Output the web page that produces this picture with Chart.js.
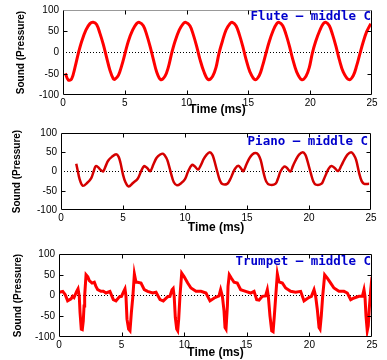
<!DOCTYPE html>
<html><head><meta charset="utf-8">
<script src="https://cdn.jsdelivr.net/npm/chart.js@4/dist/chart.umd.min.js"></script>
<style>
html,body{margin:0;padding:0;background:#fff;}
#wrap{position:relative;width:387px;height:360px;overflow:hidden;}
canvas{position:absolute;left:0;}
</style></head><body>
<div id="wrap">
<canvas id="c1" width="387" height="120" style="top:0px"></canvas>
<canvas id="c2" width="387" height="120" style="top:120px"></canvas>
<canvas id="c3" width="387" height="120" style="top:240px"></canvas>
</div>
<script>
// ---- data ----
const timeTicks = [0, 5, 10, 15, 20, 25];
const pressureTicks = [-100, -50, 0, 50, 100];
const chartTitles = ['Flute \u2013 middle C', 'Piano \u2013 middle C', 'Trumpet \u2013 middle C'];
const xAxisTitle = 'Time (ms)';
const yAxisTitle = 'Sound (Pressure)';
const baselineTime = [0, 25];
const baselinePressure = [0, 0];

const fluteTime = [0.19,0.43,0.7,0.97,1.24,1.51,1.86,2.18,2.45,2.72,2.99,3.26,3.53,3.8,4.07,4.2,4.48,4.75,5.02,5.28,5.64,5.96,6.17,6.5,6.77,7.04,7.31,7.58,7.9,8.25,8.52,8.79,9.06,9.41,9.73,9.93,10.27,10.54,10.81,11.08,11.41,11.76,12.11,12.38,12.62,12.89,13.19,13.51,13.7,14.0,14.27,14.54,14.81,15.13,15.53,15.88,16.15,16.42,16.69,17.02,17.29,17.48,17.78,18.05,18.32,18.59,18.91,19.31,19.66,19.93,20.17,20.44,20.79,21.06,21.28,21.55,21.81,22.08,22.35,22.68,23.14,23.49,23.76,24.03,24.3,24.57,24.9];
const flutePressure = [-49,-65,-62,-35,-2,26,53,68,71,66,45,19,-12,-42,-62,-63,-54,-31,-2,26,53,68,71,63,42,15,-16,-46,-64,-56,-35,-2,26,53,68,71,63,42,15,-16,-46,-64,-56,-35,-2,26,53,68,71,63,42,15,-16,-46,-64,-54,-31,-2,26,53,68,71,63,42,15,-16,-46,-64,-56,-35,-2,26,53,68,71,63,42,15,-16,-46,-64,-54,-31,-2,26,49,68];

const pianoTime = [1.23,1.35,1.5,1.75,2.1,2.44,2.65,2.8,3.0,3.2,3.4,3.6,3.8,4.1,4.45,4.65,4.8,5.0,5.2,5.45,5.8,6.2,6.45,6.7,6.95,7.2,7.45,7.7,8.0,8.25,8.5,8.65,8.9,9.1,9.35,9.7,10.0,10.25,10.55,10.8,11.05,11.3,11.5,11.75,12.0,12.2,12.35,12.6,12.8,13.0,13.4,13.65,13.85,14.05,14.3,14.5,14.7,14.95,15.2,15.45,15.7,15.9,16.1,16.35,16.55,16.8,17.3,17.5,17.7,18.0,18.2,18.5,18.7,18.95,19.2,19.5,19.7,19.85,20.15,20.35,20.55,21.0,21.2,21.4,21.6,21.8,22.05,22.35,22.6,22.85,23.1,23.4,23.6,23.8,24.05,24.25,24.45,24.85];
const pianoPressure = [20,2,-20,-37,-30,-17,2,14,11,4,0,14,28,38,45,38,22,-8,-28,-39,-30,-18,0,14,9,1,18,35,44,46,35,22,-8,-28,-36,-30,-20,0,17,13,5,18,32,44,50,44,30,0,-22,-32,-32,-20,-5,8,15,9,1,18,35,45,48,44,30,-5,-26,-34,-32,-18,0,13,10,0,14,31,44,50,44,30,-5,-26,-34,-32,-20,-5,8,14,10,1,15,31,44,50,44,30,-5,-25,-32,-32];

const trumpetTime = [0.03,0.3,0.5,0.69,0.96,1.09,1.2,1.41,1.52,1.62,1.68,1.78,1.86,1.94,2.0,2.05,2.16,2.3,2.42,2.64,2.82,2.95,3.09,3.35,3.55,3.75,4.07,4.34,4.55,4.82,4.99,5.17,5.27,5.35,5.43,5.56,5.67,5.78,5.9,6.02,6.15,6.28,6.55,6.81,7.08,7.48,7.75,8.07,8.33,8.68,8.86,9.03,9.12,9.2,9.29,9.4,9.48,9.56,9.66,9.8,10.0,10.28,10.54,10.94,11.34,11.74,12.06,12.4,12.78,12.91,13.05,13.18,13.26,13.34,13.45,13.5,13.6,13.76,13.98,14.24,14.51,14.91,15.31,15.58,15.79,15.98,16.24,16.5,16.64,16.72,16.85,16.99,17.1,17.2,17.31,17.44,17.57,17.84,18.1,18.5,18.9,19.3,19.57,19.89,20.16,20.37,20.5,20.63,20.77,20.85,20.95,21.06,21.22,21.43,21.7,21.96,22.36,22.76,23.03,23.3,23.57,23.96,24.23,24.36,24.44,24.52,24.62,24.7,24.78,24.9,25.0];
const trumpetPressure = [8,10,2,-13,-8,-2,-5,10,16,-2,-41,-81,-82,-61,-25,-1,50,45,36,30,32,22,14,10,10,6,10,-10,-13,-3,-2,10,16,-2,-57,-81,-85,-41,-2,52,32,32,30,14,10,6,8,-10,-13,-3,-2,14,17,-2,-53,-81,-85,-57,-2,54,45,30,18,10,10,6,-13,-6,-1,14,-2,-37,-77,-81,-25,22,50,42,32,30,14,10,6,10,-10,-11,-2,-1,14,-2,-49,-85,-87,-49,-2,52,33,30,18,10,8,10,-13,-6,-2,14,-2,-33,-77,-81,-49,-2,50,42,30,18,10,10,6,-10,-6,-2,-2,14,-2,-49,-85,-73,-33,14,45];

// ---- layout / style ----
const panels = [
  {id:'c1', t:fluteTime, p:flutePressure, title:chartTitles[0], color:'#ff0000', width:3, tension:0.35,
   pad:{left:15, top:8, right:15, bottom:3}, yW:48, xH:22, titleDy:7, titleRight:1, topColor:'#999'},
  {id:'c2', t:pianoTime, p:pianoPressure, title:chartTitles[1], color:'#d40000', width:2.5, tension:0.35,
   pad:{left:11, top:13, right:16, bottom:5}, yW:50, xH:25, titleDy:9, titleRight:3, topColor:'#000'},
  {id:'c3', t:trumpetTime, p:trumpetPressure, title:chartTitles[2], color:'#ff0000', width:3, tension:0,
   pad:{left:12, top:14, right:15, bottom:0}, yW:47, xH:23, titleDy:8, titleRight:1, topColor:'#000'}
];

const framePlugin = {
  id: 'frame',
  afterDatasetsDraw(chart, args, opts) {
    const {ctx, chartArea:a, scales} = chart;
    ctx.save();
    const l = Math.round(a.left)+0.5, r = Math.round(a.right)-0.5, t = Math.round(a.top)+0.5, b = Math.round(a.bottom)-0.5;
    ctx.lineWidth = 1;
    ctx.strokeStyle = opts.topColor || '#000';
    ctx.beginPath(); ctx.moveTo(l, t); ctx.lineTo(r, t); ctx.stroke();
    ctx.strokeStyle = '#000';
    ctx.beginPath(); ctx.moveTo(l, t); ctx.lineTo(l, b); ctx.lineTo(r, b); ctx.lineTo(r, t); ctx.stroke();
    // inner tick marks
    const xs = scales.x, ys = scales.y;
    ctx.beginPath();
    xs.ticks.forEach(tk => {
      if (tk.value <= xs.min || tk.value >= xs.max) return;
      const px = Math.round(xs.getPixelForValue(tk.value)) + 0.5;
      ctx.moveTo(px, b); ctx.lineTo(px, b-4);
      ctx.moveTo(px, t); ctx.lineTo(px, t+4);
    });
    ys.ticks.forEach(tk => {
      if (tk.value <= ys.min || tk.value >= ys.max || tk.value === 0) return;
      const py = Math.round(ys.getPixelForValue(tk.value)) + 0.5;
      ctx.moveTo(l, py); ctx.lineTo(l+4, py);
      ctx.moveTo(r, py); ctx.lineTo(r-4, py);
    });
    ctx.stroke();
    // panel title
    ctx.fillStyle = '#0000cc';
    ctx.font = 'bold 12.5px "DejaVu Sans Mono"';
    ctx.textAlign = 'right';
    ctx.textBaseline = 'middle';
    ctx.fillText(opts.text, a.right - opts.right, a.top + opts.dy);
    ctx.restore();
  }
};

panels.forEach(pn => {
  const pts = pn.t.map((x, i) => ({x, y: pn.p[i]}));
  const base = baselineTime.map((x, i) => ({x, y: baselinePressure[i]}));
  new Chart(document.getElementById(pn.id), {
    type: 'scatter',
    data: {datasets: [
      {data: pts, showLine: true, borderColor: pn.color, borderWidth: pn.width, pointRadius: 0,
       tension: pn.tension, cubicInterpolationMode: 'default', order: 1},
      {data: base, showLine: true, borderColor: '#000', borderWidth: 1, borderDash: [1, 2], pointRadius: 0, order: 2}
    ]},
    options: {
      responsive: false, animation: false, devicePixelRatio: 1,
      layout: {padding: pn.pad},
      plugins: {legend: {display: false}, tooltip: {enabled: false},
        frame: {text: pn.title, dy: pn.titleDy, right: pn.titleRight, topColor: pn.topColor}},
      scales: {
        x: {type: 'linear', min: timeTicks[0], max: timeTicks[timeTicks.length-1],
          afterBuildTicks: s => { s.ticks = timeTicks.map(v => ({value: v})); },
          afterFit: s => { s.height = pn.xH; },
          grid: {display: false, drawTicks: false}, border: {display: false},
          ticks: {padding: 2, color: '#000', font: {family: 'Liberation Sans', size: 10}, maxRotation: 0},
          title: {display: true, text: xAxisTitle, color: '#000', padding: 0,
            font: {family: 'Liberation Sans', size: 12, weight: 'bold'}}},
        y: {type: 'linear', min: pressureTicks[0], max: pressureTicks[pressureTicks.length-1],
          afterBuildTicks: s => { s.ticks = pressureTicks.map(v => ({value: v})); },
          afterFit: s => { s.width = pn.yW; },
          grid: {display: false, drawTicks: false}, border: {display: false},
          ticks: {padding: 4, color: '#000', font: {family: 'Liberation Sans', size: 10}},
          title: {display: true, text: yAxisTitle, color: '#000', padding: 0,
            font: {family: 'Liberation Sans', size: 10, weight: 'bold'}}}
      }
    },
    plugins: [framePlugin]
  });
});
</script>
</body></html>
